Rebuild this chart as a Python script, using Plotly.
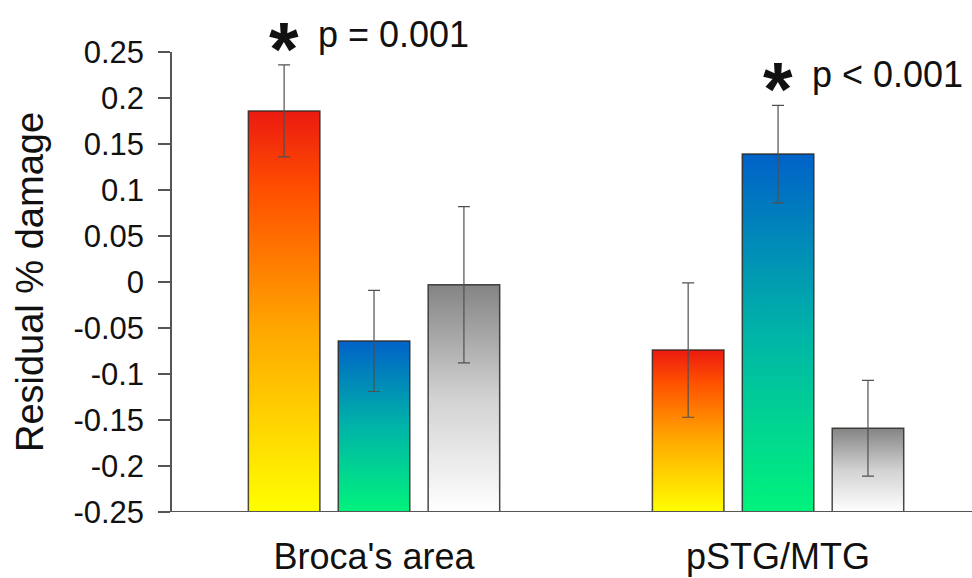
import plotly.graph_objects as go

# ---- data ----
regions = ["Broca's area", "pSTG/MTG"]
conditions = ["cond1", "cond2", "cond3"]
means = {
    "cond1": [0.186, -0.074],
    "cond2": [-0.064, 0.139],
    "cond3": [-0.003, -0.159],
}
errors = {
    "cond1": [0.050, 0.073],
    "cond2": [0.055, 0.053],
    "cond3": [0.085, 0.052],
}
sig_labels = ["p = 0.001", "p < 0.001"]
sig_condition = ["cond1", "cond2"]
yticks = [-0.25, -0.2, -0.15, -0.1, -0.05, 0, 0.05, 0.1, 0.15, 0.2, 0.25]
ytick_text = ["-0.25", "-0.2", "-0.15", "-0.1", "-0.05", "0", "0.05", "0.1", "0.15", "0.2", "0.25"]

# ---- styles ----
gradients = {
    "cond1": [[0, "#ffff00"], [0.45, "#ffa800"], [0.8, "#ff5000"], [1, "#ec1a10"]],
    "cond2": [[0, "#00f37c"], [0.5, "#00b4a8"], [1, "#0062c8"]],
    "cond3": [[0, "#ffffff"], [0.5, "#d2d2d2"], [1, "#848484"]],
}
offsets = {"cond1": -0.2225, "cond2": 0.0, "cond3": 0.2225}
bar_w = 0.177
ymin, ymax = -0.25, 0.25
FONT = "Liberation Sans, Arial, sans-serif"

fig = go.Figure()
for c in conditions:
    for gi, v in enumerate(means[c]):
        xc = gi + offsets[c]
        xs = [xc - bar_w / 2, xc + bar_w / 2, xc + bar_w / 2, xc - bar_w / 2, xc - bar_w / 2]
        ys = [ymin, ymin, v, v, ymin]
        fig.add_trace(go.Scatter(
            x=xs, y=ys, mode="lines", fill="toself",
            fillgradient=dict(type="vertical", colorscale=gradients[c]),
            line=dict(color="rgba(45,40,35,0.85)", width=1.5),
            hoverinfo="skip", showlegend=False,
        ))
    fig.add_trace(go.Scatter(
        x=[gi2 + offsets[c] for gi2 in range(len(regions))],
        y=means[c], mode="markers", marker=dict(size=1, opacity=0),
        error_y=dict(type="data", array=errors[c], color="#505050", thickness=1.2, width=6),
        showlegend=False, hoverinfo="skip",
    ))

# significance annotations
for gi, (lab, c) in enumerate(zip(sig_labels, sig_condition)):
    xc = gi + offsets[c]
    ytop = means[c][gi] + errors[c][gi]
    fig.add_annotation(x=xc, y=ytop, text="<b>*</b>", showarrow=False, xanchor="center",
                       yanchor="bottom", yshift=-28,
                       font=dict(family=FONT, size=76, color="#111111"))
    fig.add_annotation(x=xc, y=ytop, text=lab, showarrow=False, xanchor="left",
                       yanchor="bottom", xshift=32, yshift=8,
                       font=dict(family=FONT, size=36, color="#111111"))

fig.update_layout(
    width=972, height=578,
    margin=dict(l=172, r=0, t=52, b=66),
    paper_bgcolor="white", plot_bgcolor="white",
    font=dict(family=FONT, color="#111111"),
    xaxis=dict(
        range=[-0.5, 1.48], tickvals=list(range(len(regions))), ticktext=regions,
        showgrid=False, zeroline=False, showline=False, ticks="",
        tickfont=dict(size=36, color="#111111"), ticklabelstandoff=20,
        fixedrange=True,
    ),
    yaxis=dict(
        range=[ymin, ymax], tickvals=yticks, ticktext=ytick_text,
        showgrid=False, zeroline=False, showline=True, linecolor="#555555", linewidth=1.5,
        ticks="outside", ticklen=12, tickcolor="#555555", tickwidth=1.5,
        tickfont=dict(size=31, color="#111111"), ticklabelstandoff=8,
        title=dict(text="Residual % damage", font=dict(size=38, color="#111111"), standoff=18),
        fixedrange=True,
    ),
)
# bottom baseline
fig.add_shape(type="line", xref="paper", yref="y", x0=-0.015, x1=1, y0=ymin, y1=ymin,
              line=dict(color="#555555", width=2))

fig.write_html("out.html", config={"displayModeBar": False},
               post_script="document.body.style.margin='0';document.body.style.padding='0';")
